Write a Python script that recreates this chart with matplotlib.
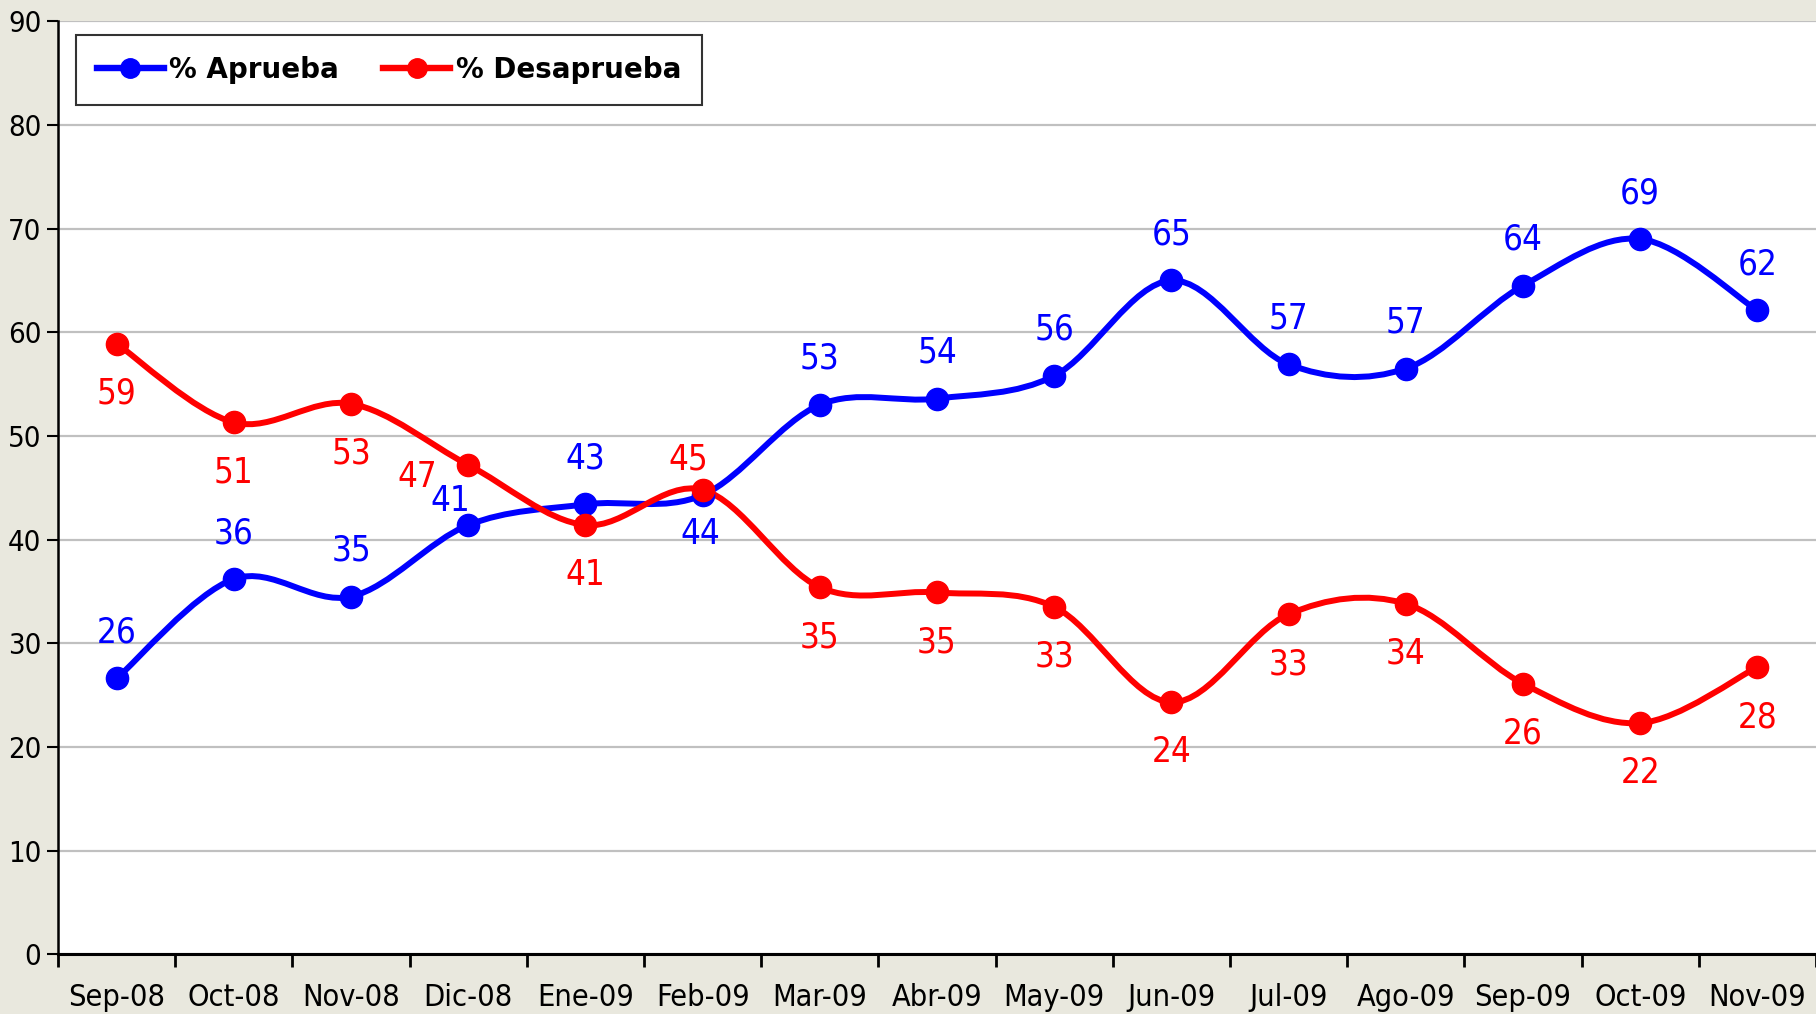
import matplotlib
matplotlib.use("Agg")
import matplotlib.pyplot as plt
from matplotlib.path import Path
from matplotlib.patches import PathPatch

# data
meses = ["Sep-08", "Oct-08", "Nov-08", "Dic-08", "Ene-09", "Feb-09", "Mar-09", "Abr-09",
         "May-09", "Jun-09", "Jul-09", "Ago-09", "Sep-09", "Oct-09", "Nov-09"]
aprueba = [26.6, 36.2, 34.5, 41.4, 43.4, 44.3, 53.0, 53.6, 55.8, 65.0, 56.9, 56.5, 64.5, 69.0, 62.1]
desaprueba = [58.9, 51.3, 53.1, 47.2, 41.4, 44.8, 35.4, 34.9, 33.5, 24.3, 32.8, 33.8, 26.1, 22.3, 27.7]
aprueba_lbl = [26, 36, 35, 41, 43, 44, 53, 54, 56, 65, 57, 57, 64, 69, 62]
desaprueba_lbl = [59, 51, 53, 47, 41, 45, 35, 35, 33, 24, 33, 34, 26, 22, 28]

BLUE = "#0000FF"
RED = "#FF0000"
BG = "#E9E8DE"

plt.rcParams["font.family"] = "DejaVu Sans"
plt.rcParams["font.stretch"] = "condensed"


def smooth_path(xs, ys):
    # excel-like smoothed line as cubic bezier segments
    n = len(xs)
    pts = list(zip(xs, ys))
    verts = [pts[0]]
    codes = [Path.MOVETO]
    for i in range(n - 1):
        p0 = pts[i - 1] if i > 0 else pts[i]
        p1 = pts[i]
        p2 = pts[i + 1]
        p3 = pts[i + 2] if i + 2 < n else pts[i + 1]
        c1 = (p1[0] + (p2[0] - p0[0]) / 6, p1[1] + (p2[1] - p0[1]) / 6)
        c2 = (p2[0] - (p3[0] - p1[0]) / 6, p2[1] - (p3[1] - p1[1]) / 6)
        verts += [c1, c2, p2]
        codes += [Path.CURVE4] * 3
    return Path(verts, codes)


fig = plt.figure(figsize=(18.16, 10.14), dpi=100, facecolor=BG)
ax = fig.add_axes([0.032, 0.059, 0.968, 0.920])
ax.set_facecolor("white")

x = list(range(len(meses)))

for ys, col, name in [(aprueba, BLUE, "% Aprueba"), (desaprueba, RED, "% Desaprueba")]:
    ax.add_patch(PathPatch(smooth_path(x, ys), facecolor="none", edgecolor=col, lw=4.3,
                           capstyle="round", joinstyle="round", zorder=3))
    ax.plot(x, ys, ls="none", marker="o", ms=16, color=col, zorder=4)
    ax.plot([], [], color=col, lw=4.6, marker="o", ms=14, label=name)

# label offsets in points, a few are moved to avoid crossing lines
off_a = {3: (-13, 17), 5: (-2, -28)}
off_d = {3: (-37, -9), 5: (-10, 22)}
for i in x:
    dx, dy = off_a.get(i, (0, 33))
    ax.annotate(str(aprueba_lbl[i]), (i, aprueba[i]), xytext=(dx, dy), textcoords="offset points",
                ha="center", va="center", color=BLUE, fontsize=25, zorder=5)
    dx, dy = off_d.get(i, (0, -36))
    ax.annotate(str(desaprueba_lbl[i]), (i, desaprueba[i]), xytext=(dx, dy), textcoords="offset points",
                ha="center", va="center", color=RED, fontsize=25, zorder=5)

ax.set_xlim(-0.5, 14.38)
ax.set_ylim(0, 90)
ax.set_yticks(range(0, 91, 10))
ax.yaxis.grid(True, color="#C0C0C0", lw=1.6)
ax.set_axisbelow(True)
ax.tick_params(axis="y", labelsize=21, length=8, width=1.5, pad=4)

ax.set_xticks(x)
ax.set_xticklabels(meses)
ax.set_xticks([i - 0.5 for i in range(len(meses) + 1)], minor=True)
ax.tick_params(axis="x", which="major", length=0, labelsize=22, pad=21)
ax.tick_params(axis="x", which="minor", length=9, width=2)

for s in ["top", "right"]:
    ax.spines[s].set_visible(False)
ax.spines["left"].set_linewidth(1.8)
ax.spines["bottom"].set_linewidth(2.2)

leg = ax.legend(loc="upper left", bbox_to_anchor=(0.0102, 0.985), borderaxespad=0, ncol=2,
                prop={"weight": "bold", "size": 20, "stretch": "normal"}, handlelength=2.4,
                handletextpad=0.2, columnspacing=1.6, borderpad=0.75, frameon=True, fancybox=False)
leg.get_frame().set_edgecolor("black")
leg.get_frame().set_linewidth(1.5)

fig.savefig("out.png", dpi=100, facecolor=BG)
